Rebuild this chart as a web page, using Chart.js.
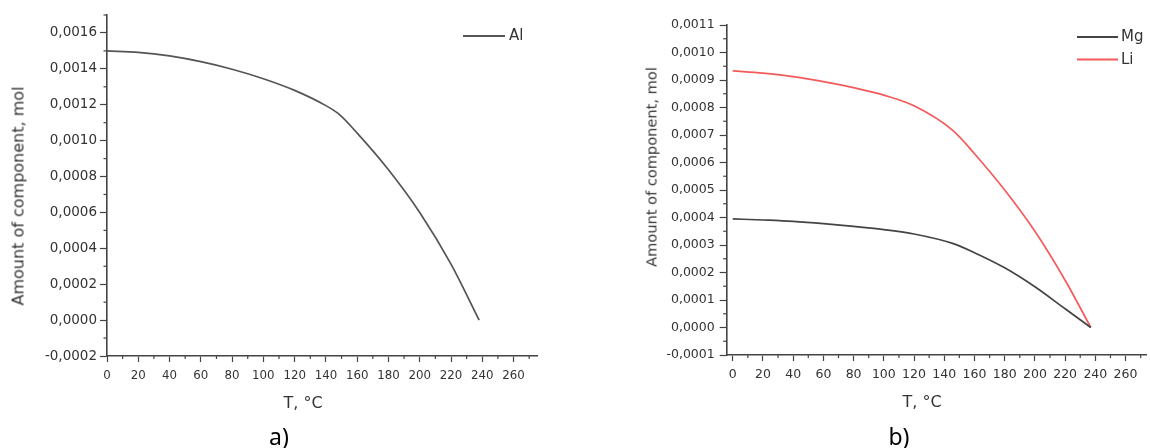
<!DOCTYPE html>
<html>
<head>
<meta charset="utf-8">
<script src="https://cdn.jsdelivr.net/npm/chart.js@4.4.1/dist/chart.umd.min.js"></script>
<style>
  html, body { margin: 0; padding: 0; background: #fff; }
  #wrap { position: relative; width: 1150px; height: 448px; overflow: hidden; background: #fff; }
  canvas { position: absolute; top: 0; }
  #cA { left: 0; }
  #cB { left: 575px; }
  .lbl { position: absolute; transform: translate(-50%, -50%); white-space: nowrap; color: #333; font-family: "DejaVu Sans", sans-serif; }
  .ytitle { transform: translate(-50%, -50%) rotate(-90deg); }
  .cap { color: #000; font-family: "Noto Sans", "Open Sans", sans-serif; font-size: 23px; }
</style>
</head>
<body>
<div id="wrap">
  <canvas id="cA" width="575" height="448"></canvas>
  <canvas id="cB" width="575" height="448"></canvas>
  <div class="lbl ytitle" style="left:17.5px; top:196px; font-size:16px;">Amount of component, mol</div>
  <div class="lbl" style="left:303px; top:402px; font-size:16px;">T, °C</div>
  <div class="lbl cap" style="left:279px; top:436px;">a)</div>
  <div class="lbl ytitle" style="left:651px; top:167px; font-size:14.6px;">Amount of component, mol</div>
  <div class="lbl" style="left:922px; top:401px; font-size:16px;">T, °C</div>
  <div class="lbl cap" style="left:899px; top:436px;">b)</div>
</div>
<script>
// ---- Data ----
// Panel a)
const tempA = [0, 20, 40, 60, 80, 100, 120, 140, 148, 160, 180, 200, 220, 238];
const alAmount = [0.001500, 0.001492, 0.001472, 0.001440, 0.001398, 0.001345, 0.001280, 0.001195, 0.001150, 0.001042, 0.000838, 0.000600, 0.000312, 0];
// Panel b)
const tempB = [0, 20, 40, 60, 80, 100, 120, 146, 160, 180, 200, 220, 237];
const mgAmount = [0.000395, 0.000391, 0.000386, 0.000378, 0.000368, 0.000356, 0.000340, 0.000305, 0.000272, 0.000217, 0.000148, 0.000068, 0];
const liAmount = [0.000933, 0.000925, 0.000912, 0.000894, 0.000872, 0.000845, 0.000806, 0.000715, 0.000632, 0.000500, 0.000350, 0.000172, 0];
// Series labels
const seriesA = ["Al"];
const seriesB = ["Mg", "Li"];
// Axis tick settings
const xTicksA = { min: 0, max: 275, step: 20, minor: 10 };
const yTicksA = { min: -0.0002, max: 0.0017, step: 0.0002, minor: 0.0001 };
const xTicksB = { min: -4, max: 274, step: 20, minor: 10 };
const yTicksB = { min: -0.0001, max: 0.0011, step: 0.0001, minor: 0.00005 };

const AXIS = "#444";
const TXT = "#333";

function toPts(xs, ys) { return xs.map((x, i) => ({ x: x, y: ys[i] })); }
function fmtY(v) { if (Math.abs(v) < 1e-12) v = 0; return v.toFixed(4).replace(".", ","); }

// Minor ticks plugin (uses the scales to place the marks)
const minorTicks = {
  id: "minorTicks",
  afterDraw(chart, args, opts) {
    const ctx = chart.ctx;
    ctx.save();
    ctx.strokeStyle = AXIS;
    ctx.lineWidth = 1.2;
    for (const id of ["x", "y"]) {
      const s = chart.scales[id];
      const cfg = opts[id];
      if (!cfg) continue;
      const k0 = Math.ceil(s.min / cfg.minor - 1e-9), k1 = Math.floor(s.max / cfg.minor + 1e-9);
      const ratio = Math.round(cfg.step / cfg.minor);
      for (let k = k0; k <= k1; k++) {
        if (k % ratio === 0) continue;
        const p = s.getPixelForValue(k * cfg.minor);
        ctx.beginPath();
        if (id === "x") { ctx.moveTo(p, s.top); ctx.lineTo(p, s.top + cfg.len); }
        else { ctx.moveTo(s.right, p); ctx.lineTo(s.right - cfg.len, p); }
        ctx.stroke();
      }
    }
    ctx.restore();
  }
};

// Inset legend plugin (draws dataset labels inside the plot)
const insetLegend = {
  id: "insetLegend",
  afterDraw(chart, args, opts) {
    const ctx = chart.ctx;
    ctx.save();
    ctx.font = opts.font;
    ctx.textBaseline = "middle";
    chart.data.datasets.forEach((ds, i) => {
      const y = opts.y + i * opts.rowH;
      ctx.strokeStyle = ds.borderColor;
      ctx.lineWidth = 1.8;
      ctx.beginPath();
      ctx.moveTo(opts.x, y);
      ctx.lineTo(opts.x + opts.len, y);
      ctx.stroke();
      ctx.fillStyle = "#333";
      ctx.fillText(ds.label, opts.x + opts.len + opts.gap, y + 0.5);
    });
    ctx.restore();
  }
};

function makeChart(canvasId, datasets, xT, yT, geo) {
  return new Chart(document.getElementById(canvasId), {
    type: "line",
    data: { datasets: datasets },
    options: {
      responsive: false,
      animation: false,
      events: [],
      layout: { padding: { left: 0, top: geo.top, right: geo.right, bottom: geo.bottom } },
      elements: { point: { radius: 0 }, line: { borderWidth: 1.7, cubicInterpolationMode: "monotone" } },
      scales: {
        x: {
          type: "linear", min: xT.min, max: xT.max,
          afterFit(s) { s.height = geo.xh; },
          grid: { drawOnChartArea: false, drawTicks: true, tickLength: geo.xTickLen, tickColor: AXIS, tickWidth: 1.2 },
          border: { display: true, color: AXIS, width: 1.6 },
          ticks: { stepSize: xT.step, includeBounds: false, maxRotation: 0, autoSkip: false,
                   padding: geo.xPad, color: TXT, font: { family: "DejaVu Sans", size: geo.xFont } }
        },
        y: {
          type: "linear", min: yT.min, max: yT.max,
          afterFit(s) { s.width = geo.yw; },
          grid: { drawOnChartArea: false, drawTicks: true, tickLength: geo.yTickLen, tickColor: AXIS, tickWidth: 1.2 },
          border: { display: true, color: AXIS, width: 1.6 },
          ticks: { stepSize: yT.step, includeBounds: false, autoSkip: false,
                   padding: geo.yPad, color: TXT, font: { family: "DejaVu Sans", size: geo.yFont },
                   callback: (v) => fmtY(v) }
        }
      },
      plugins: {
        legend: { display: false },
        tooltip: { enabled: false },
        minorTicks: { x: { step: xT.step, minor: xT.minor, len: 3 }, y: { step: yT.step, minor: yT.minor, len: 3.5 } },
        insetLegend: geo.legend
      }
    },
    plugins: [minorTicks, insetLegend]
  });
}

// Panel a)
makeChart("cA",
  [{ label: seriesA[0], data: toPts(tempA, alAmount), borderColor: "#555", backgroundColor: "#555" }],
  xTicksA, yTicksA,
  { top: 15, right: 38, bottom: 62, xh: 30, yw: 107, xTickLen: 6, yTickLen: 7, xPad: 7, yPad: 3, xFont: 11.8, yFont: 13.5,
    legend: { x: 463, y: 36, len: 42, gap: 4, rowH: 23, font: "15px 'DejaVu Sans'" } });

// Panel b)
makeChart("cB",
  [{ label: seriesB[0], data: toPts(tempB, mgAmount), borderColor: "#444", backgroundColor: "#444" },
   { label: seriesB[1], data: toPts(tempB, liAmount), borderColor: "#f55a5a", backgroundColor: "#f55a5a" }],
  xTicksB, yTicksB,
  { top: 25, right: 3.3, bottom: 63, xh: 30, yw: 151.7, xTickLen: 6, yTickLen: 7, xPad: 6, yPad: 5, xFont: 12.5, yFont: 12.5,
    legend: { x: 502, y: 37, len: 41, gap: 3, rowH: 22.5, font: "15px 'DejaVu Sans'" } });
</script>
</body>
</html>
